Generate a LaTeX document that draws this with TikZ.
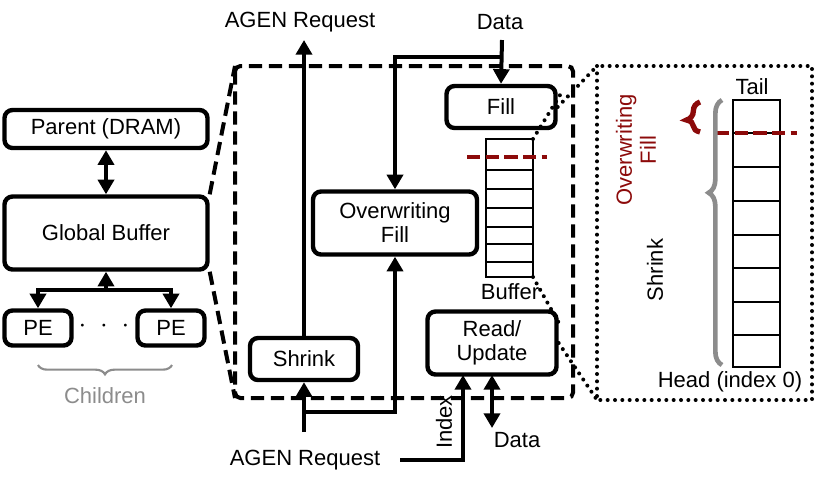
\documentclass[tikz,border=0pt]{standalone}
\usepackage{fontspec}
\setmainfont{Liberation Sans}
\usetikzlibrary{arrows.meta,decorations.pathreplacing}
\definecolor{dred}{RGB}{140,10,10}
\definecolor{gr}{RGB}{140,140,140}
\begin{document}
\begin{tikzpicture}[x=0.75pt,y=-0.75pt,
 box/.style={draw,line width=3.3pt,rounded corners=6pt,inner sep=0pt,font=\fontsize{16.5}{18}\selectfont,align=center},
 conn/.style={line width=3pt,-{Triangle[length=11pt,width=12pt]}},
 dconn/.style={line width=3pt,{Triangle[length=11pt,width=12pt]}-{Triangle[length=11pt,width=12pt]}},
 lbl/.style={font=\fontsize{16.5}{18}\selectfont,inner sep=1pt},
 dsh/.style={line width=3pt,dash pattern=on 10pt off 5pt},
 dot/.style={line width=3pt,dash pattern=on 0pt off 5.5pt,line cap=round},
 cell/.style={line width=1.3pt}]
\useasboundingbox (0,0) rectangle (830,487);
% left
\node[box,minimum width=203*0.75pt,minimum height=38*0.75pt] (par) at (106,129) {Parent (DRAM)};
\node[box,minimum width=203*0.75pt,minimum height=73*0.75pt] (gb) at (106,233) {Global Buffer};
\draw[dconn] (par.south) -- (gb.north);
\node[box,minimum width=67*0.75pt,minimum height=35*0.75pt] (pe1) at (38,328) {PE};
\node[box,minimum width=67*0.75pt,minimum height=35*0.75pt] (pe2) at (171,328) {PE};
\node[font=\fontsize{22}{22}\selectfont\bfseries] (dots) at (104,326) {$\cdot\;\cdot\;\cdot$};
\coordinate (j) at (106,290);
\draw[conn] (j) -- (gb.south);
\draw[conn] (j) -| (pe1.north);
\draw[conn] (j) -| (pe2.north);
\draw[gr,line width=1.6pt,decorate,decoration={brace,mirror,amplitude=7pt}] (38,365) -- (172,365);
\node[lbl,text=gr] (ch) at (105,396) {Children};
% dashed box
\draw[dsh,rounded corners=4pt] (235,66) rectangle (573,398);
\coordinate (dtl) at (235,66); \coordinate (dbl) at (235,398);
\draw[dsh] (gb.north east) -- (dtl);
\draw[dsh] (gb.south east) -- (dbl);
% middle
\node[box,minimum width=108*0.75pt,minimum height=42*0.75pt] (sh) at (304,359) {Shrink};
\node[box,minimum width=164*0.75pt,minimum height=63*0.75pt] (ow) at (395,223) {Overwriting\\Fill};
\node[box,minimum width=109*0.75pt,minimum height=42*0.75pt] (fill) at (501,107) {Fill};
\node[box,minimum width=129*0.75pt,minimum height=63*0.75pt] (ru) at (492,343) {Read/\\Update};
\node[lbl] (agt) at (300,22) {AGEN Request};
\node[lbl] (agb) at (305,460) {AGEN Request};
\node[lbl] (dtop) at (500,22) {Data};
\node[lbl] (dbot) at (517,440) {Data};
\node[lbl,rotate=90] (idx) at (444,422) {Index};
\coordinate (agtb) at (304,40);
\draw[conn] (sh.north) -- (agtb);
\coordinate (s0) at (304,432);
\draw[conn] (s0) -- (sh.south);
\draw[conn] (304,412) -| (ow.south);
\coordinate (dt) at (502,40);
\draw[conn] (dt) -- (fill.north);
\draw[conn] (502,57) -| (ow.north);
\coordinate (ib) at (400,460);
\draw[conn] (ib) -| (463,375) coordinate (rui);
\coordinate (db) at (492,428);
\draw[dconn] (492,375) -- (db);
% buffer
\draw[cell] (486,139) rectangle (533,277);
\foreach \y in {170,189,208,227,244,262} \draw[cell] (486,\y) -- (533,\y);
\draw[dred,line width=3pt,dash pattern=on 10pt off 4pt] (467,157) -- (547,157);
\node[lbl] (buf) at (510,292) {Buffer};
% dotted box
\draw[dot] (597,66) rectangle (812,400);
\draw[dot] (fill.east) -- (597,66);
\draw[dot] (533,139) -- (560,95);
\draw[dot] (533,277) -- (560,325);
\draw[dot] (ru.east) -- (597,400);
% right buffer
\draw[cell] (733,100) rectangle (780,367);
\foreach \y in {133,167,201,235,268,302,335} \draw[cell] (733,\y) -- (780,\y);
\draw[dred,line width=3pt,dash pattern=on 10pt off 4pt] (716,133) -- (797,133);
\node[lbl] (tail) at (752,87) {Tail};
\node[lbl] (head) at (730,382) {Head (index 0)};
\draw[gr,line width=3.5pt,decorate,decoration={brace,amplitude=10pt,aspect=0.65}] (722,365) -- (722,100);
\draw[dred,line width=4pt,decorate,decoration={brace,amplitude=10pt,aspect=0.4}] (700,132) -- (700,102);
\node[lbl,rotate=90,text=dred,align=center] (owl) at (636,150) {Overwriting\\Fill};
\node[lbl,rotate=90] (shl) at (655,270) {Shrink};
\end{tikzpicture}
\end{document}
